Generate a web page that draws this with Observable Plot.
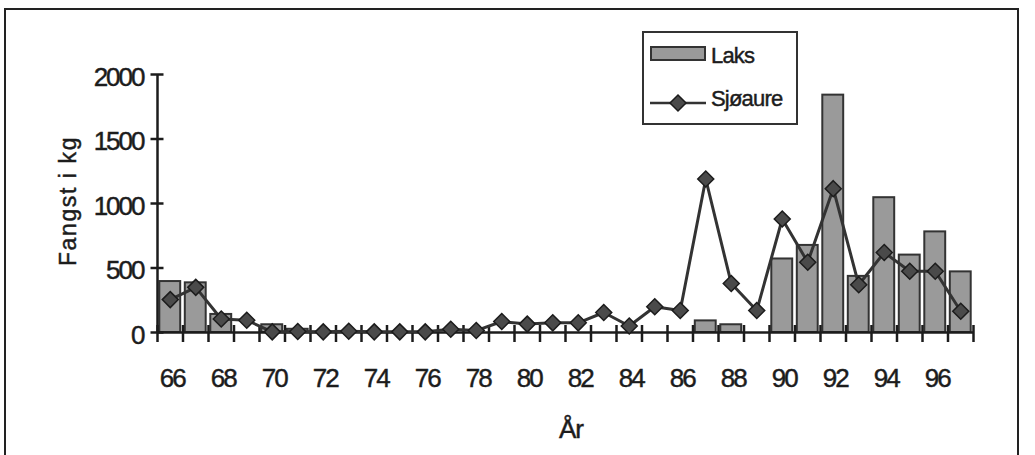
<!DOCTYPE html>
<html>
<head>
<meta charset="utf-8">
<script src="https://cdn.jsdelivr.net/npm/d3@7"></script>
<script src="https://cdn.jsdelivr.net/npm/@observablehq/plot@0.6"></script>
<style>
  body { margin: 0; background: #fff; }
  #wrap { position: relative; width: 1035px; height: 455px; overflow: hidden; background: #fff; }
  #frame { position: absolute; left: 4px; top: 8px; width: 1015px; height: 480px; border: 2px solid #222; box-sizing: border-box; }
  #chart { position: absolute; left: 0; top: 0; }
  #chart svg text { letter-spacing: -2px; }
  #wrap text { stroke: #1c1c1c; stroke-width: 0.45px; }
  #overlay { position: absolute; left: 0; top: 0; pointer-events: none; }
</style>
</head>
<body>
<div id="wrap">
  <div id="frame"></div>
  <div id="chart"></div>
  <svg id="overlay" width="1035" height="455"></svg>
</div>
<script>
// Catch per year (kg), 1966–1997
const years = [66, 67, 68, 69, 70, 71, 72, 73, 74, 75, 76, 77, 78, 79, 80, 81,
               82, 83, 84, 85, 86, 87, 88, 89, 90, 91, 92, 93, 94, 95, 96, 97];
const laks = [395, 385, 140, 0, 60, 25, 0, 0, 0, 0, 0, 0, 0, 0, 0, 0,
              0, 0, 0, 0, 0, 90, 60, 0, 570, 675, 1840, 435, 1045, 600, 780, 470];
const sjoaure = [255, 350, 105, 95, 5, 8, 5, 10, 5, 5, 5, 25, 15, 85, 65, 75,
                 75, 155, 50, 200, 170, 1190, 380, 170, 880, 545, 1115, 370, 620, 475, 475, 165];
const yTicks = [0, 500, 1000, 1500, 2000];
const xLabels = years.filter(y => y % 2 === 0);

const seriesNames = ["Laks", "Sjøaure"];
const yTitle = "Fangst i kg";
const xTitle = "År";

const rows = years.map((year, i) => ({year, laks: laks[i], sjoaure: sjoaure[i]}));
// category boundaries, where the x-axis tick marks sit
const bounds = [years[0] - 0.5, ...years.map(y => y + 0.5)];

const barFill = "#9a9a9a";
const ink = "#1c1c1c";

const chart = Plot.plot({
  width: 1035,
  height: 455,
  marginLeft: 157,
  marginRight: 62,
  marginTop: 74,
  marginBottom: 123,
  x: {domain: [bounds[0], bounds[bounds.length - 1]], axis: null},
  y: {domain: [0, 2000], axis: null},
  style: {
    fontFamily: "'Liberation Sans', Arial, sans-serif",
    fontSize: "26px",
    color: ink,
    background: "transparent",
    overflow: "visible"
  },
  marks: [
    Plot.rectY(rows.filter(d => d.laks > 0), {
      x1: d => d.year - 0.5, x2: d => d.year + 0.5, y: "laks",
      insetLeft: 2.3, insetRight: 2.3,
      fill: barFill, stroke: "#333", strokeWidth: 2
    }),
    // axis lines
    Plot.ruleY([0], {stroke: ink, strokeWidth: 2.5}),
    Plot.ruleX([bounds[0]], {y1: 0, y2: 2000, stroke: ink, strokeWidth: 2.5}),
    // crossing tick marks
    Plot.axisX(bounds, {tickSize: 17, dy: -7, fill: "none", stroke: ink, strokeWidth: 2.5, label: null}),
    Plot.axisY(yTicks, {tickSize: 13, dx: 6.5, fill: "none", stroke: ink, strokeWidth: 2.5, label: null}),
    // tick labels
    Plot.axisX(xLabels, {tickSize: 0, tickPadding: 36, dx: 2, tickFormat: d => String(d), fill: ink, label: null}),
    Plot.axisY(yTicks, {tickSize: 0, tickPadding: 14, dy: 3, tickFormat: d => String(d), fill: ink, label: null}),
    // sea trout series
    Plot.line(rows, {x: "year", y: "sjoaure", stroke: "#333", strokeWidth: 3}),
    Plot.dot(rows, {x: "year", y: "sjoaure", symbol: "diamond2", r: 7.2, fill: "#4a4a4a", stroke: ink, strokeWidth: 1.5})
  ]
});
document.getElementById("chart").append(chart);

// titles and legend
const ov = d3.select("#overlay");
const font = "'Liberation Sans', Arial, sans-serif";

ov.append("text")
  .attr("transform", "translate(76,201) rotate(-90)")
  .attr("text-anchor", "middle")
  .attr("font-family", font).attr("font-size", 23).attr("letter-spacing", 1.6)
  .attr("fill", ink)
  .text(yTitle);

ov.append("text")
  .attr("x", 571).attr("y", 438)
  .attr("text-anchor", "middle")
  .attr("font-family", font).attr("font-size", 26).attr("letter-spacing", -1)
  .attr("fill", ink)
  .text(xTitle);

const lg = ov.append("g");
lg.append("rect").attr("x", 643).attr("y", 32).attr("width", 154).attr("height", 92)
  .attr("fill", "#fff").attr("stroke", "#333").attr("stroke-width", 2);
lg.append("rect").attr("x", 651).attr("y", 47).attr("width", 54).attr("height", 13)
  .attr("fill", barFill).attr("stroke", "#333").attr("stroke-width", 2);
lg.append("text").attr("x", 711).attr("y", 62.5)
  .attr("font-family", font).attr("font-size", 22).attr("letter-spacing", -0.8)
  .attr("fill", ink).text(seriesNames[0]);
lg.append("line").attr("x1", 650).attr("x2", 706).attr("y1", 103).attr("y2", 103)
  .attr("stroke", "#333").attr("stroke-width", 2.5);
lg.append("path").attr("d", d3.symbol(d3.symbolDiamond2, Math.PI * 7.2 * 7.2)())
  .attr("transform", "translate(678,103)")
  .attr("fill", "#4a4a4a").attr("stroke", ink).attr("stroke-width", 1.5);
lg.append("text").attr("x", 711).attr("y", 106)
  .attr("font-family", font).attr("font-size", 22).attr("letter-spacing", -0.8)
  .attr("fill", ink).text(seriesNames[1]);
</script>
</body>
</html>
